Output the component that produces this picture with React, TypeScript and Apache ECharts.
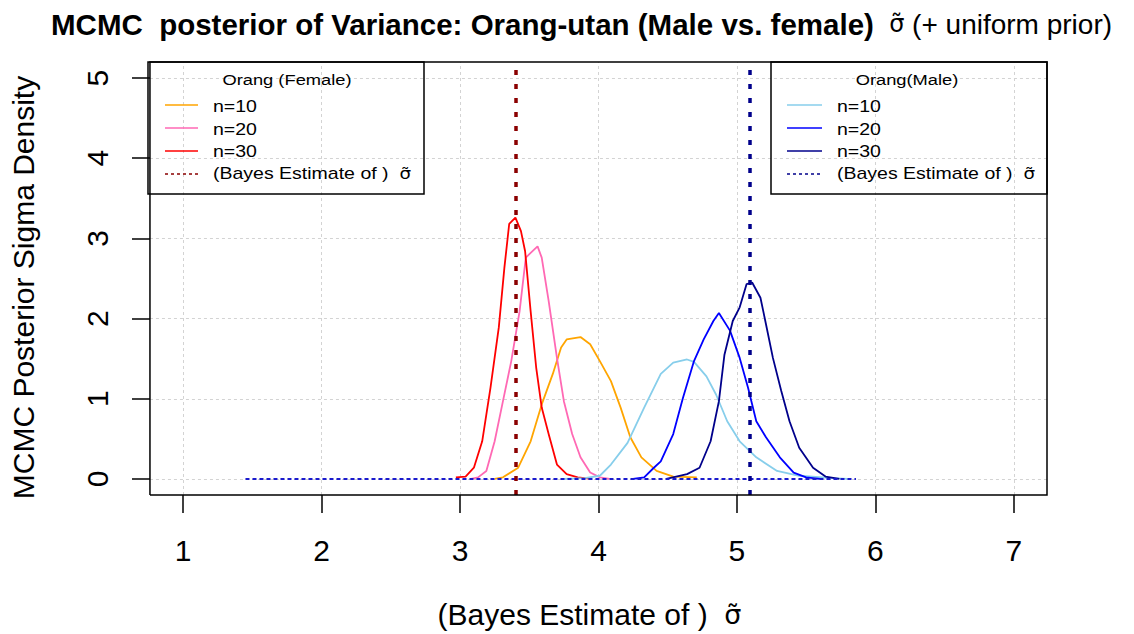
import { useEffect, useRef } from 'react';
import * as echarts from 'echarts';

const xTicks = [1, 2, 3, 4, 5, 6, 7];
const yTicks = [0, 1, 2, 3, 4, 5];

// Female curves
const femN10X = [3.25, 3.31, 3.42, 3.51, 3.59, 3.67, 3.73, 3.77, 3.87, 3.94, 4.01, 4.09, 4.16, 4.23, 4.31, 4.42, 4.54, 4.71];
const femN10Y = [0, 0.02, 0.14, 0.47, 0.93, 1.31, 1.64, 1.74, 1.77, 1.68, 1.47, 1.22, 0.89, 0.52, 0.27, 0.10, 0.03, 0.02];
const femN20X = [3.08, 3.13, 3.19, 3.25, 3.31, 3.37, 3.43, 3.475, 3.51, 3.56, 3.59, 3.64, 3.70, 3.75, 3.81, 3.87, 3.94, 4.01, 4.08];
const femN20Y = [0, 0.02, 0.10, 0.47, 0.97, 1.47, 2.09, 2.76, 2.82, 2.90, 2.76, 2.22, 1.51, 0.97, 0.56, 0.27, 0.08, 0.02, 0];
const femN30X = [2.97, 3.04, 3.10, 3.16, 3.22, 3.28, 3.32, 3.355, 3.40, 3.44, 3.47, 3.51, 3.55, 3.59, 3.64, 3.70, 3.77, 3.85, 3.95];
const femN30Y = [0.02, 0.03, 0.14, 0.47, 1.14, 1.89, 2.63, 3.18, 3.26, 3.09, 2.84, 2.09, 1.39, 0.89, 0.56, 0.18, 0.06, 0.02, 0];

// Male curves
const maleN10X = [3.75, 3.90, 4.01, 4.09, 4.21, 4.33, 4.45, 4.54, 4.64, 4.69, 4.78, 4.85, 4.93, 5.02, 5.14, 5.29, 5.45, 5.69, 5.80];
const maleN10Y = [0, 0.01, 0.04, 0.18, 0.45, 0.89, 1.31, 1.45, 1.49, 1.46, 1.28, 1.05, 0.72, 0.47, 0.27, 0.10, 0.04, 0.01, 0];
const maleN20X = [4.25, 4.33, 4.40, 4.45, 4.54, 4.61, 4.69, 4.76, 4.83, 4.87, 4.95, 5.02, 5.08, 5.14, 5.21, 5.31, 5.41, 5.50, 5.60];
const maleN20Y = [0, 0.02, 0.14, 0.22, 0.56, 1.01, 1.47, 1.74, 1.97, 2.07, 1.85, 1.51, 1.14, 0.72, 0.52, 0.27, 0.08, 0.02, 0];
const maleN30X = [4.49, 4.64, 4.73, 4.81, 4.87, 4.91, 4.97, 5.02, 5.07, 5.11, 5.17, 5.21, 5.26, 5.32, 5.38, 5.45, 5.55, 5.64, 5.74];
const maleN30Y = [0, 0.06, 0.14, 0.47, 0.97, 1.55, 1.97, 2.14, 2.43, 2.45, 2.26, 1.93, 1.51, 1.10, 0.72, 0.39, 0.14, 0.03, 0];

// Bayes estimates (vertical lines) and baseline segment
const femaleBayes = 3.4;
const maleBayes = 5.09;
const baselineX = [1.45, 5.86];

// Plot box extents (R-style 4% padding)
const boxXMin = 0.76;
const boxXMax = 7.24;
const boxYMin = -0.2;
const boxYMax = 5.2;

// Layout (pixels)
const BOX_LEFT = 148;
const BOX_RIGHT = 1047;
const BOX_TOP = 62;
const BOX_BOTTOM = 495;
const TICK_LEN = 18;

// Extend the axis range so that the outward ticks fall inside the grid
const xPerPx = (boxXMax - boxXMin) / (BOX_RIGHT - BOX_LEFT);
const yPerPx = (boxYMax - boxYMin) / (BOX_BOTTOM - BOX_TOP);
const axXMin = boxXMin - TICK_LEN * xPerPx;
const axYMin = boxYMin - TICK_LEN * yPerPx;

const FONT = 'Liberation Sans, Arial, sans-serif';
const SIG = 'DejaVu Sans';

const zip = (xs: number[], ys: number[]) => xs.map((x, i) => [x, ys[i]]);

export default function App() {
  const ref = useRef<HTMLDivElement>(null);
  useEffect(() => {
    if (!ref.current) return;
    const chart = echarts.init(ref.current, undefined, { renderer: 'svg' });

    const curve = (name: string, xs: number[], ys: number[], color: string) => ({
      type: 'line',
      name,
      data: zip(xs, ys),
      showSymbol: false,
      symbol: 'none',
      clip: false,
      lineStyle: { color, width: 1.8 },
      z: 5,
    });

    const gridLines = [
      ...xTicks.map((t) => ({ coords: [[t, boxYMin], [t, boxYMax]] })),
      ...yTicks.map((t) => ({ coords: [[boxXMin, t], [boxXMax, t]] })),
    ];
    const tickLines = [
      ...xTicks.map((t) => ({ coords: [[t, boxYMin], [t, axYMin]] })),
      ...yTicks.map((t) => ({ coords: [[axXMin, t], [boxXMin, t]] })),
    ];
    const boxLine = [
      {
        coords: [
          [boxXMin, boxYMin],
          [boxXMax, boxYMin],
          [boxXMax, boxYMax],
          [boxXMin, boxYMax],
          [boxXMin, boxYMin],
        ],
      },
    ];

    const legendText = (x: number, y: number, text: string, align = 'left', size = 16) => ({
      type: 'text',
      x,
      y,
      scaleX: 1.22,
      style: {
        text,
        fontFamily: FONT,
        fontSize: size,
        fill: '#000',
        align,
        verticalAlign: 'middle',
        rich: {
          s: { fontFamily: SIG, fontSize: size - 1, fill: '#000' },
        },
      },
      z: 10,
    });
    const legendLine = (x1: number, x2: number, y: number, color: string, dash?: number[]) => ({
      type: 'line',
      shape: { x1, y1: y, x2, y2: y },
      style: { stroke: color, lineWidth: 1.5, lineDash: dash },
      z: 10,
    });

    const rowsY = [105, 128, 151, 174];
    const leftLX = [165, 198];
    const rightLX = [787, 822];

    const legendGraphics = [
      {
        type: 'rect',
        shape: { x: 148, y: 62, width: 276, height: 132 },
        style: { fill: 'none', stroke: '#000', lineWidth: 1.5 },
        z: 10,
      },
      legendText(287, 80, 'Orang (Female)', 'center', 15),
      legendLine(leftLX[0], leftLX[1], rowsY[0], '#FFA500'),
      legendLine(leftLX[0], leftLX[1], rowsY[1], '#FF69B4'),
      legendLine(leftLX[0], leftLX[1], rowsY[2], '#FF0000'),
      legendLine(leftLX[0], leftLX[1], rowsY[3], '#8B0000', [3, 3]),
      legendText(213, rowsY[0] + 2, 'n=10'),
      legendText(213, rowsY[1] + 2, 'n=20'),
      legendText(213, rowsY[2] + 1, 'n=30'),
      legendText(213, rowsY[3], '(Bayes Estimate of )  {s|σ̃}'),
      {
        type: 'rect',
        shape: { x: 771, y: 62, width: 276, height: 132 },
        style: { fill: 'none', stroke: '#000', lineWidth: 1.5 },
        z: 10,
      },
      legendText(907, 80, 'Orang(Male)', 'center', 15),
      legendLine(rightLX[0], rightLX[1], rowsY[0], '#87CEEB'),
      legendLine(rightLX[0], rightLX[1], rowsY[1], '#0000FF'),
      legendLine(rightLX[0], rightLX[1], rowsY[2], '#00008B'),
      legendLine(rightLX[0], rightLX[1], rowsY[3], '#00008B', [3, 3]),
      legendText(837, rowsY[0] + 2, 'n=10'),
      legendText(837, rowsY[1] + 2, 'n=20'),
      legendText(837, rowsY[2] + 1, 'n=30'),
      legendText(837, rowsY[3], '(Bayes Estimate of )  {s|σ̃}'),
    ];

    const option = {
      animation: false,
      backgroundColor: '#fff',
      title: {
        text: '{b|MCMC  posterior of Variance: Orang-utan (Male vs. female)}{n|  σ̃}{p| (+ uniform prior)}',
        left: 46,
        top: 4,
        textStyle: {
          rich: {
            b: { fontFamily: FONT, fontWeight: 'bold', fontSize: 29.5, color: '#000' },
            n: { fontFamily: SIG, fontWeight: 'normal', fontSize: 24, color: '#000' },
            p: { fontFamily: FONT, fontWeight: 'normal', fontSize: 28, color: '#000' },
          },
        },
      },
      grid: {
        left: BOX_LEFT - TICK_LEN,
        right: 1134 - BOX_RIGHT,
        top: BOX_TOP,
        bottom: 634 - (BOX_BOTTOM + TICK_LEN),
        show: false,
      },
      xAxis: {
        type: 'value',
        min: axXMin,
        max: boxXMax,
        name: '(Bayes Estimate of )  {s|σ̃}',
        nameLocation: 'middle',
        nameGap: 104 - TICK_LEN,
        nameTextStyle: {
          fontFamily: FONT,
          fontSize: 30,
          color: '#000',
          rich: { s: { fontFamily: SIG, fontSize: 27, color: '#000' } },
        },
        axisLine: { show: false, onZero: false },
        axisTick: { show: false },
        axisLabel: {
          customValues: xTicks,
          margin: 40 - TICK_LEN,
          fontFamily: FONT,
          fontSize: 30,
          color: '#000',
          formatter: (v: number) => String(v),
        },
        splitLine: { show: false },
      },
      yAxis: {
        type: 'value',
        min: axYMin,
        max: boxYMax,
        name: 'MCMC Posterior Sigma Density',
        nameLocation: 'middle',
        nameGap: 112 - TICK_LEN,
        nameTextStyle: { fontFamily: FONT, fontSize: 30, color: '#000' },
        axisLine: { show: false, onZero: false },
        axisTick: { show: false },
        axisLabel: {
          customValues: yTicks,
          rotate: 90,
          margin: 38 - TICK_LEN,
          fontFamily: FONT,
          fontSize: 30,
          color: '#000',
          formatter: (v: number) => String(v),
        },
        splitLine: { show: false },
      },
      series: [
        {
          type: 'lines',
          coordinateSystem: 'cartesian2d',
          data: gridLines,
          silent: true,
          clip: false,
          lineStyle: { color: '#d3d3d3', width: 1, type: [3, 3], opacity: 1 },
          z: 1,
        },
        {
          type: 'lines',
          coordinateSystem: 'cartesian2d',
          data: tickLines,
          silent: true,
          clip: false,
          lineStyle: { color: '#000', width: 1.5, type: 'solid', opacity: 1 },
          z: 9,
        },
        {
          type: 'lines',
          coordinateSystem: 'cartesian2d',
          polyline: true,
          data: boxLine,
          silent: true,
          clip: false,
          lineStyle: { color: '#000', width: 1.5, type: 'solid', opacity: 1 },
          z: 9,
        },
        curve('Female n=10', femN10X, femN10Y, '#FFA500'),
        curve('Female n=20', femN20X, femN20Y, '#FF69B4'),
        curve('Female n=30', femN30X, femN30Y, '#FF0000'),
        curve('Male n=10', maleN10X, maleN10Y, '#87CEEB'),
        curve('Male n=20', maleN20X, maleN20Y, '#0000FF'),
        curve('Male n=30', maleN30X, maleN30Y, '#00008B'),
        {
          type: 'lines',
          coordinateSystem: 'cartesian2d',
          data: [{ coords: [[baselineX[0], 0], [baselineX[1], 0]] }],
          silent: true,
          clip: false,
          lineStyle: { color: '#1a1acd', width: 2, type: [4, 3], opacity: 1 },
          z: 6,
        },
        {
          type: 'lines',
          coordinateSystem: 'cartesian2d',
          data: [{ coords: [[femaleBayes, boxYMin], [femaleBayes, boxYMax]] }],
          silent: true,
          clip: false,
          lineStyle: { color: '#8B0000', width: 3.5, type: [5, 9], opacity: 1 },
          z: 7,
        },
        {
          type: 'lines',
          coordinateSystem: 'cartesian2d',
          data: [{ coords: [[maleBayes, boxYMin], [maleBayes, boxYMax]] }],
          silent: true,
          clip: false,
          lineStyle: { color: '#00008B', width: 3.5, type: [5, 9], opacity: 1 },
          z: 7,
        },
      ],
      graphic: legendGraphics,
    };

    chart.setOption(option as any);
    return () => chart.dispose();
  }, []);

  return (
    <div
      ref={ref}
      style={{ position: 'fixed', left: 0, top: 0, width: 1134, height: 634, background: '#fff' }}
    />
  );
}
